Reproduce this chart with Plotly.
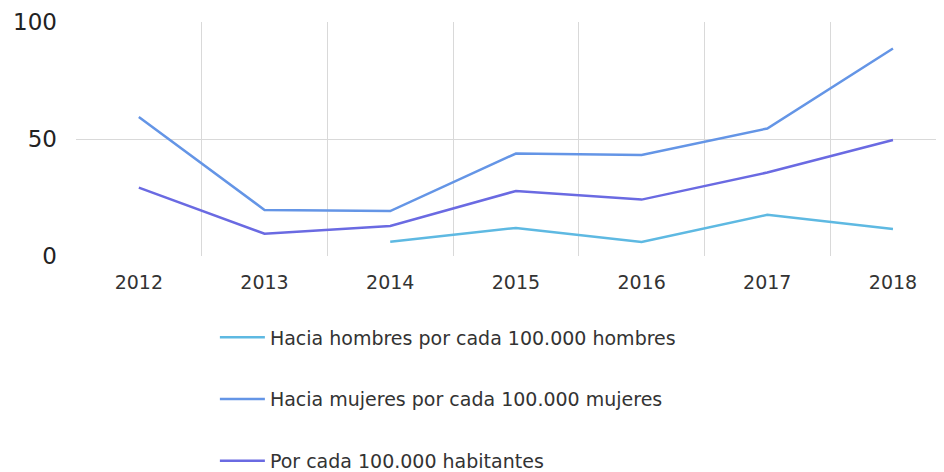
import plotly.graph_objects as go

years = [2012, 2013, 2014, 2015, 2016, 2017, 2018]
hombres = [None, None, 6.1, 12.0, 6.0, 17.6, 11.5]
mujeres = [59.4, 19.7, 19.2, 43.8, 43.2, 54.5, 88.7]
habitantes = [29.2, 9.5, 12.8, 27.8, 24.1, 35.7, 49.6]

names = ["Hacia hombres por cada 100.000 hombres",
         "Hacia mujeres por cada 100.000 mujeres",
         "Por cada 100.000 habitantes"]
colors = ["#5EB9E2", "#6495E6", "#6A6AE2"]
series = [hombres, mujeres, habitantes]

fig = go.Figure()
for i, (n, c, s) in enumerate(zip(names, colors, series)):
    fig.add_trace(go.Scatter(x=years, y=s, name=n, mode="lines",
                             line=dict(color=c, width=2.5),
                             legendgroup=f"g{i}"))

boundaries = [y - 0.5 for y in years]

fig.update_layout(
    width=936, height=464,
    margin=dict(l=68, r=0, t=14, b=216),
    plot_bgcolor="white", paper_bgcolor="white",
    font=dict(family="DejaVu Sans", color="#333"),
    showlegend=True,
    legend=dict(x=0.16, y=0.331, xanchor="left", yanchor="top",
                yref="container",
                orientation="v", traceorder="grouped", tracegroupgap=34,
                itemwidth=45,
                font=dict(size=19, color="#333")),
    xaxis=dict(range=[2011.5, 2018.406], tickvals=years,
               ticktext=[str(y) for y in years], showgrid=False,
               zeroline=False, showline=False, ticklabelstandoff=13,
               tickfont=dict(size=19, color="#333"),
               minor=dict(tickvals=boundaries, showgrid=True,
                          gridcolor="#d9d9d9", gridwidth=1, ticklen=0)),
    yaxis=dict(range=[0, 100], tickvals=[0, 50, 100], showgrid=True,
               gridcolor="#d9d9d9", gridwidth=1, zeroline=False,
               showline=False, ticks="", ticklabelstandoff=18,
               tickfont=dict(size=23, color="#222")),
)

fig.write_html("out.html")
